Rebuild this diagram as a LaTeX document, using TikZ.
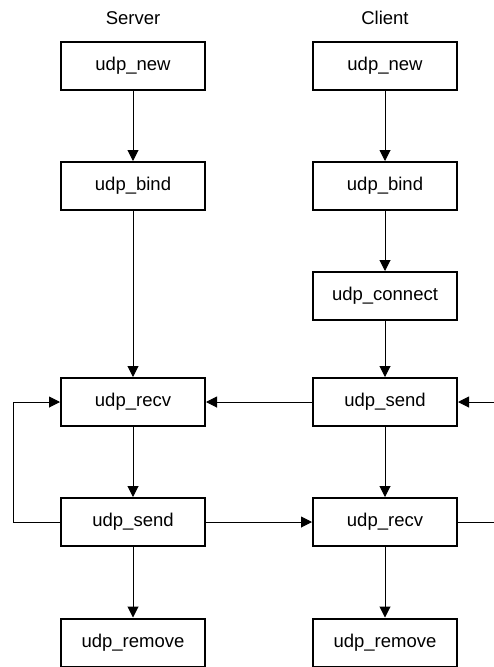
\documentclass[tikz,border=0pt]{standalone}
\usepackage{fontspec}
\setmainfont{Liberation Sans}
\usetikzlibrary{arrows.meta}
\begin{document}
\begin{tikzpicture}[x=1pt,y=-1pt,
  fn/.style={draw,line width=2pt,minimum width=144pt,minimum height=48pt,inner sep=0pt,font=\fontsize{18.5}{22}\selectfont},
  lbl/.style={font=\fontsize{18.5}{22}\selectfont},
  conn/.style={line width=1pt,-{Triangle[length=11pt,width=11pt]}},
  plain/.style={line width=1pt}]
\useasboundingbox (0,0) rectangle (494,667);
\node[lbl] (sl) at (133,18) {Server};
\node[lbl] (cl) at (385,18) {Client};
\node[fn] (snew) at (133,66) {udp\_new};
\node[fn] (sbind) at (133,186) {udp\_bind};
\node[fn] (srecv) at (133,402) {udp\_recv};
\node[fn] (ssend) at (133,522) {udp\_send};
\node[fn] (srem) at (133,642.5) {udp\_remove};
\node[fn] (cnew) at (385,66) {udp\_new};
\node[fn] (cbind) at (385,186) {udp\_bind};
\node[fn] (ccon) at (385,296) {udp\_connect};
\node[fn] (csend) at (385,402) {udp\_send};
\node[fn] (crecv) at (385,522) {udp\_recv};
\node[fn] (crem) at (385,642.5) {udp\_remove};
\coordinate (lloop) at (13,522);
\coordinate (rin) at (494,402);
\coordinate (rout) at (494,522);
\draw[conn] (snew) -- (sbind);
\draw[conn] (sbind) -- (srecv);
\draw[conn] (srecv) -- (ssend);
\draw[conn] (ssend) -- (srem);
\draw[conn] (cnew) -- (cbind);
\draw[conn] (cbind) -- (ccon);
\draw[conn] (ccon) -- (csend);
\draw[conn] (csend) -- (crecv);
\draw[conn] (crecv) -- (crem);
\draw[conn] (csend) -- (srecv);
\draw[conn] (ssend) -- (crecv);
\draw[conn] (ssend.west) -- (lloop) |- (srecv.west);
\draw[conn] (rin) -- (csend.east);
\draw[plain] (crecv.east) -- (rout);
\end{tikzpicture}
\end{document}
